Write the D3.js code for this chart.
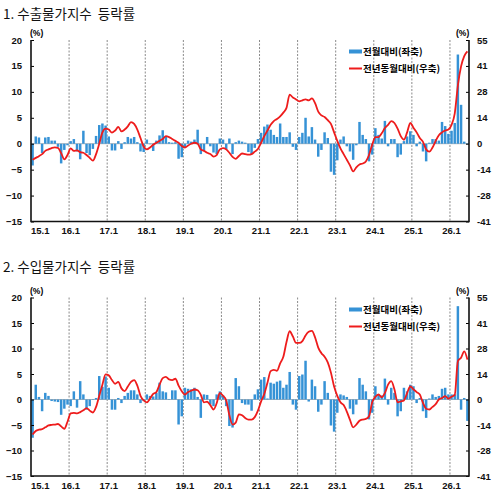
<!DOCTYPE html>
<html>
<head>
<meta charset="utf-8">
<script src="https://cdn.jsdelivr.net/npm/d3@7"></script>
<style>
  body { margin: 0; background: #fff; }
  svg { display: block; }
  .tick text { font-family: "Liberation Sans", Arial, sans-serif; font-weight: bold; font-size: 9.5px; fill: #111; }
</style>
</head>
<body>
<div id="chart"></div>
<script>
// year labels for the January gridlines (15.1 ... 26.1)
let years = [15, 16, 17, 18, 19, 20, 21, 22, 23, 24, 25, 26];
let monthsLast = 6; // data runs to 26.6

let leftTicks = [20, 15, 10, 5, 0, -5, -10, -15];
let rightTicks = [55, 41.25, 27.5, 13.75, 0, -13.75, -27.5, -41.25];
let rightTickLabels = ["55", "41", "28", "14", "0", "-14", "-28", "-41"];

// 1. export price index : month-on-month (left axis, bars)
let exportMoM = [
  -4.2, 1.4, 1.2, -1.8, 1.2, 1.3, 0.6, 0.6, -0.6, -3.8, -1.2, -0.3,
  0.5, 0.9, -1.5, -3.0, 2.5, -1.8, -2.2, -1.0, 1.5, 3.6, 3.9, 3.5,
  1.4, -1.3, -1.3, 0.5, -1.0, 0.3, 1.3, 1.0, 1.3, 0.3, -1.5, -1.6,
  0.8, -0.1, -1.4, 0.6, 1.6, 2.6, 1.3, 0.3, 0.2, 0.3, -2.9, -2.6,
  -0.8, 0.6, 0.4, 0.8, 2.7, -2.0, -1.3, 1.3, -0.5, -1.7, -2.0, 1.0,
  0.8, -1.1, 1.0, -2.0, 0.3, 0.6, 0.4, 0.2, -1.6, -2.0, -0.8, 0.9,
  2.1, 3.3, 3.7, 2.7, 1.7, 1.3, 3.9, 1.3, 1.3, 2.2, -0.6, -1.2,
  1.3, 2.1, 5.0, 1.4, 3.2, 0.8, -2.5, -1.2, 2.2, 1.1, -5.4, -6.0,
  -3.2, 0.8, 1.4, -0.5, -1.5, -3.1, -0.3, 4.2, 1.7, 0.9, -3.4, -2.1,
  3.0, 1.7, 1.0, 4.4, -0.5, 0.9, 0.9, -2.6, -2.1, 0.5, 1.4, 2.4,
  1.7, -0.5, 0.4, -1.5, -3.4, 0.2, 0.9, 0.9, 0.6, 4.2, 3.4, 1.9,
  2.5, 4.0, 17.2, 7.5, 0.4, 0.1
];
// 1. export price index : year-on-year (right axis, line)
let exportYoY = [
  -8.5, -7.5, -6.6, -5.5, -3.8, -3.0, -2.3, -1.9, -2.2, -5.0, -8.3, -6.0,
  -2.5, -3.8, -3.5, -4.5, -4.8, -6.0, -7.5, -9.0, -5.5, 0.0, 6.0, 8.0,
  7.5, 5.9, 7.0, 8.9, 6.5, 7.5, 9.2, 11.5, 10.5, 7.5, 3.0, -1.5,
  -3.0, -2.0, -0.5, 0.5, 1.5, 2.5, 4.0, 3.5, 2.5, 1.5, 0.5, -1.2,
  -2.0, -0.9, 0.0, 0.5, 0.0, -3.0, -3.8, -4.8, -5.5, -6.8, -6.0, -3.0,
  -2.3, -3.0, -4.8, -7.0, -8.0, -6.5, -5.2, -5.5, -5.8, -5.5, -4.2, -2.8,
  0.5, 4.0, 7.0, 10.0, 12.0, 13.1, 14.5, 16.5, 19.0, 26.0, 24.5, 23.5,
  22.5, 23.0, 23.5, 23.0, 24.0, 21.5, 17.0, 15.0, 14.2, 12.5, 10.5, 6.0,
  1.5, -2.5, -5.5, -8.5, -11.5, -14.7, -12.5, -11.0, -10.5, -9.4, -6.0, -0.5,
  3.5, 3.5, 5.5, 8.3, 10.0, 12.0, 11.0, 8.0, 4.0, 2.1, 6.0, 11.0,
  8.5, 6.0, 3.0, 1.0, -3.0, -4.2, -2.0, 1.5, 4.5, 6.0, 7.0, 7.5,
  10.0, 16.0, 31.0, 41.0, 46.5, 49.0
];

// 2. import price index : month-on-month (left axis, bars)
let importMoM = [
  -7.5, 2.9, 0.5, -2.3, 1.3, 0.7, -0.3, -0.4, -0.5, -3.0, -1.8, -1.0,
  -1.3, 1.6, -1.6, 3.6, 1.0, -2.0, -1.3, 0.1, 0.3, 4.6, 2.5, 4.5,
  2.3, -2.0, -2.0, 0.3, -0.7, 0.7, 1.3, 1.8, 1.8, 1.0, -0.7, -0.3,
  1.0, 0.7, 0.6, 1.3, 3.3, 1.6, 1.4, 0.1, 1.8, 1.8, -4.9, -3.3,
  2.3, 2.1, 2.0, 2.3, 0.5, -3.6, 1.0, 0.9, -1.0, -1.3, 1.0, 1.6,
  0.8, -1.3, -5.2, -5.5, 4.2, 2.6, -0.7, -1.0, -1.0, -2.2, 1.0, 2.0,
  3.9, 4.4, 0.2, 3.3, 3.1, 3.5, 3.7, 2.3, 2.9, 5.4, -1.0, -2.0,
  4.6, 4.9, 7.6, -0.4, 3.9, 2.6, -2.4, -1.0, 3.6, 1.3, -5.1, -6.3,
  -2.6, 1.0, 0.8, 0.5, -1.8, -2.9, -1.0, 4.2, 2.9, 1.6, -3.9, -2.6,
  2.6, 1.0, 0.8, 4.1, -1.0, 2.3, 1.3, -3.3, -2.3, 2.3, 1.6, 2.9,
  2.6, -0.7, 0.3, -2.3, -3.6, 0.2, 1.0, 0.5, 0.7, 2.1, 2.3, 1.0,
  1.0, 1.0, 18.3, -2.0, 0.3, -4.2
];
// 2. import price index : year-on-year (right axis, line)
let importYoY = [
  -18.9, -17.0, -16.3, -16.0, -15.0, -14.0, -13.7, -13.5, -13.2, -14.5, -15.8, -12.0,
  -7.5, -7.2, -7.5, -6.8, -5.8, -4.6, -6.0, -7.0, -4.0, 2.0, 8.0, 13.5,
  13.0, 10.5, 8.5, 9.5, 6.0, 4.5, 7.0, 9.5, 10.5, 7.5, 2.0, -0.5,
  -1.5, 0.5, 3.0, 4.0, 8.0, 11.5, 12.2, 10.8, 10.5, 11.2, 7.5, 4.5,
  2.7, 4.0, 4.8, 5.4, 5.0, 2.5, -1.5, -1.2, -3.0, -5.4, -2.0, 3.6,
  2.0, -0.5, -8.5, -13.5, -12.5, -8.0, -8.5, -10.0, -10.8, -10.8, -9.5, -6.0,
  -1.0, 3.0, 9.0, 15.3, 16.0, 15.5, 19.5, 23.0, 31.0, 36.8, 34.0, 30.5,
  30.5, 31.5, 34.5, 36.5, 37.0, 33.5, 28.0, 25.0, 23.0, 20.0, 14.5, 7.0,
  2.0, -1.5, -3.0, -6.5, -11.0, -15.0, -13.5, -11.5, -10.8, -10.5, -9.0, -1.5,
  1.5, 2.7, 1.2, 3.5, 8.0, 9.9, 5.5, -1.5, -1.0, -0.5, 3.5, 7.0,
  5.5, 4.0, 2.7, -1.8, -5.0, -5.4, -4.0, -2.5, 0.0, 0.8, 1.8, 0.5,
  1.5, 2.5, 20.7, 22.5, 26.0, 21.5
];

let legendBar = "전월대비(좌축)";
let legendLine = "전년동월대비(우축)";

var width = 499, height = 500;
var left = 31, right = 469;

// month labels 15.1 ... 26.6
var months = [];
years.forEach(function(y) {
    var last = (y === years[years.length - 1]) ? monthsLast : 12;
    for (var m = 1; m <= last; m++) months.push(y + "." + m);
});

var svg = d3.select("#chart").append("svg")
    .attr("width", width)
    .attr("height", height);

var xScale = d3.scaleBand()
    .domain(months)
    .range([left, right])
    .paddingInner(0.22)
    .paddingOuter(0.11);

function drawPanel(p) {
    var yL = d3.scaleLinear().domain([-15, 20]).range([p.bottom, p.top]);
    var yR = d3.scaleLinear().domain([-41.25, 55]).range([p.bottom, p.top]);
    var g = svg.append("g");

    g.append("text")
        .attr("x", 3)
        .attr("y", p.titleY)
        .style("font-family", "'Noto Sans CJK KR', sans-serif")
        .style("font-size", "13.5px")
        .style("white-space", "pre")
        .style("fill", "#111")
        .text(p.title);

    // january gridlines
    var jans = months.filter(function(d) { return /\.1$/.test(d); }).slice(1);
    g.selectAll(".grid")
        .data(jans)
        .enter().append("line")
        .attr("x1", function(d) { return xScale(d) - xScale.step() * 0.11; })
        .attr("x2", function(d) { return xScale(d) - xScale.step() * 0.11; })
        .attr("y1", p.top)
        .attr("y2", p.bottom)
        .attr("stroke", "#8a8a8a")
        .attr("stroke-width", 1)
        .attr("stroke-dasharray", "2,1.5");

    // zero line
    g.append("line")
        .attr("x1", left).attr("x2", right)
        .attr("y1", yL(0)).attr("y2", yL(0))
        .attr("stroke", "#b5b5b5")
        .attr("stroke-width", 1);

    g.selectAll(".bar")
        .data(p.bars)
        .enter().append("rect")
        .attr("x", function(d, i) { return xScale(months[i]); })
        .attr("y", function(d) { return yL(Math.max(0, d)); })
        .attr("width", xScale.bandwidth())
        .attr("height", function(d) { return Math.abs(yL(d) - yL(0)); })
        .attr("fill", "#3592d6");

    var line = d3.line()
        .x(function(d, i) { return xScale(months[i]) + xScale.bandwidth() / 2; })
        .y(function(d) { return yR(d); })
        .curve(d3.curveMonotoneX);

    g.append("path")
        .datum(p.line)
        .attr("d", line)
        .attr("fill", "none")
        .attr("stroke", "#ee1c1c")
        .attr("stroke-width", 1.8);

    // axes
    g.append("g")
        .attr("transform", "translate(" + left + ",0)")
        .call(d3.axisLeft(yL).tickValues(leftTicks).tickSize(-3).tickPadding(9))
        .call(function(a) { a.select(".domain").remove(); });

    g.append("g")
        .attr("transform", "translate(" + right + ",0)")
        .call(d3.axisRight(yR).tickValues(rightTicks).tickSize(-3).tickPadding(8)
            .tickFormat(function(d, i) { return rightTickLabels[i]; }))
        .call(function(a) { a.select(".domain").remove(); });

    var xTicks = months.filter(function(d) { return /\.1$/.test(d); });
    var xa = g.append("g")
        .attr("transform", "translate(0," + p.bottom + ")")
        .call(d3.axisBottom(xScale).tickValues(xTicks).tickSize(0).tickPadding(6));
    xa.select(".domain").remove();
    xa.select(".tick text")
        .attr("text-anchor", "start")
        .attr("x", -xScale.bandwidth() / 2 - xScale.step() * 0.11);

    // frame
    g.append("path")
        .attr("d", "M" + left + "," + p.top + "V" + p.bottom + "H" + right + "V" + p.top)
        .attr("fill", "none")
        .attr("stroke", "#111")
        .attr("stroke-width", 1.6);

    g.append("text").attr("x", 30).attr("y", p.top - 4)
        .style("font-family", "'Liberation Sans', sans-serif")
        .style("font-weight", "bold").style("font-size", "8.5px")
        .text("(%)");
    g.append("text").attr("x", 456).attr("y", p.top - 4)
        .style("font-family", "'Liberation Sans', sans-serif")
        .style("font-weight", "bold").style("font-size", "8.5px")
        .text("(%)");

    // legend
    g.append("rect")
        .attr("x", 349).attr("y", p.legY - 2)
        .attr("width", 13).attr("height", 4)
        .attr("fill", "#3592d6");
    g.append("text")
        .attr("x", 363).attr("y", p.legY + 3.5)
        .style("font-family", "'Noto Sans CJK KR', sans-serif")
        .style("font-weight", "bold").style("font-size", "9.5px")
        .text(legendBar);
    g.append("line")
        .attr("x1", 349).attr("x2", 362)
        .attr("y1", p.legY + 17).attr("y2", p.legY + 17)
        .attr("stroke", "#ee1c1c").attr("stroke-width", 2);
    g.append("text")
        .attr("x", 363).attr("y", p.legY + 20.5)
        .style("font-family", "'Noto Sans CJK KR', sans-serif")
        .style("font-weight", "bold").style("font-size", "9.5px")
        .text(legendLine);
}

drawPanel({ title: "1. 수출물가지수  등락률", titleY: 18.5, top: 40, bottom: 221.5,
            bars: exportMoM, line: exportYoY, legY: 51.5 });
drawPanel({ title: "2. 수입물가지수  등락률", titleY: 271.5, top: 297.5, bottom: 476,
            bars: importMoM, line: importYoY, legY: 309.5 });
</script>
</body>
</html>
